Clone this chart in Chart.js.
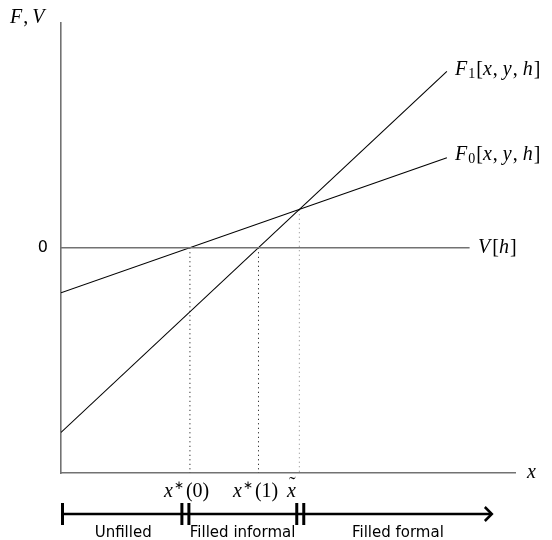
<!DOCTYPE html>
<html>
<head>
<meta charset="utf-8">
<script src="https://cdn.jsdelivr.net/npm/chart.js@4.4.1/dist/chart.umd.min.js"></script>
<style>
  html, body { margin: 0; padding: 0; background: #fff; }
</style>
</head>
<body>
<canvas id="chartCanvas" width="552" height="540"></canvas>
<script>
// courbes
const lineX = [0, 8.5];
const f0Values = [-2, 4];
const f1Values = [-8.2, 7.83];
const vX = [0, 9];
const vValues = [0, 0];

// seuils (lignes pointillées)
const cutoffX = [2.84, 4.35, 5.25];
const cutoffTop = [0, 0, 1.69];

// ligne des régimes en bas
const regimeBreaks = [2.74, 5.27];
const regimeEnd = 9.49;
const regimeLabels = ['Unfilled', 'Filled informal', 'Filled formal'];
const regimeLabelX = [1.37, 4.0, 7.42];

const yTicks = [0];

const serif = '"Liberation Serif", serif';
const sans = '"DejaVu Sans", sans-serif';
const axisGray = '#727272';
const mathSize = 20;

// petit texte "math" : morceaux italiques / indices / exposants
function drawRich(ctx, parts, x, y, size) {
    let cx = x;
    parts.forEach(p => {
        const s = p.sub ? size * 0.7 : p.sup ? size * 0.6 : size;
        ctx.font = (p.it ? 'italic ' : '') + s + 'px ' + serif;
        let dy = 0;
        if (p.sub) dy = size * 0.22;
        if (p.sup) dy = -size * 0.42;
        ctx.fillText(p.t, cx, y + dy);
        if (p.tilde) {
            const w = ctx.measureText(p.t).width;
            ctx.font = size + 'px ' + serif;
            ctx.textAlign = 'center';
            ctx.fillText('˜', cx + w / 2 + 1, y - size * 0.3);
            ctx.textAlign = 'left';
            ctx.font = (p.it ? 'italic ' : '') + s + 'px ' + serif;
        }
        cx += ctx.measureText(p.t).width + (p.sp || 0);
    });
}

const fxyh = n => [
    {t: 'F', it: true, sp: 1}, {t: n, sub: true, sp: 1}, {t: '['}, {t: 'x', it: true, sp: 1}, {t: ',', sp: 5},
    {t: 'y', it: true, sp: 1}, {t: ',', sp: 5}, {t: 'h', it: true, sp: 1}, {t: ']'}
];

const annotations = {
    id: 'annotations',
    afterDraw(chart) {
        const ctx = chart.ctx;
        const xs = chart.scales.x;
        const ya = chart.chartArea;
        ctx.save();
        ctx.fillStyle = '#000';
        ctx.textBaseline = 'middle';
        ctx.textAlign = 'left';

        drawRich(ctx, [{t: 'F', it: true, sp: 1}, {t: ',', sp: 4}, {t: 'V', it: true}], 10, 18, mathSize);
        drawRich(ctx, fxyh('1'), 455, 70, mathSize);
        drawRich(ctx, fxyh('0'), 455, 155, mathSize);
        drawRich(ctx, [{t: 'V', it: true, sp: 2}, {t: '['}, {t: 'h', it: true, sp: 1}, {t: ']'}], 478, chart.scales.y.getPixelForValue(0), mathSize);
        drawRich(ctx, [{t: 'x', it: true}], 527, ya.bottom, mathSize);

        // étiquettes des seuils
        ctx.textBaseline = 'alphabetic';
        const lblY = 497;
        drawRich(ctx, [{t: 'x', it: true, sp: 1}, {t: '∗', sup: true, sp: 2}, {t: '(0)'}], 164, lblY, mathSize);
        drawRich(ctx, [{t: 'x', it: true, sp: 1}, {t: '∗', sup: true, sp: 2}, {t: '(1)'}], 233, lblY, mathSize);
        drawRich(ctx, [{t: 'x', it: true, tilde: true}], 287, lblY, mathSize);

        // ligne des régimes
        const lineY = 514;
        const x0 = xs.getPixelForValue(0) + 1.5;
        const xEnd = xs.getPixelForValue(regimeEnd);
        ctx.strokeStyle = '#000';
        ctx.lineWidth = 2.5;
        ctx.beginPath();
        ctx.moveTo(x0, lineY);
        ctx.lineTo(xEnd - 1, lineY);
        ctx.stroke();
        ctx.beginPath();
        ctx.moveTo(xEnd - 7, lineY - 7);
        ctx.lineTo(xEnd, lineY);
        ctx.lineTo(xEnd - 7, lineY + 7);
        ctx.stroke();

        ctx.lineWidth = 3;
        const bar = px => {
            ctx.beginPath();
            ctx.moveTo(px, lineY - 11);
            ctx.lineTo(px, lineY + 11);
            ctx.stroke();
        };
        bar(x0);
        regimeBreaks.forEach(b => {
            const px = xs.getPixelForValue(b);
            bar(px - 3.5);
            bar(px + 3.5);
        });

        ctx.font = '15px ' + sans;
        ctx.textAlign = 'center';
        ctx.textBaseline = 'alphabetic';
        regimeLabels.forEach((l, i) => {
            ctx.fillText(l, xs.getPixelForValue(regimeLabelX[i]), 537);
        });
        ctx.restore();
    }
};

const pts = (xs, ys) => xs.map((x, i) => ({x: x, y: ys[i]}));

const datasets = [
    {data: pts(vX, vValues), borderColor: axisGray, borderWidth: 1.6},
    {data: pts(lineX, f0Values), borderColor: '#000', borderWidth: 1.1},
    {data: pts(lineX, f1Values), borderColor: '#000', borderWidth: 1.1}
];
cutoffX.forEach((c, i) => {
    datasets.push({
        data: [{x: c, y: cutoffTop[i]}, {x: c, y: -10}],
        borderColor: i === 2 ? '#888' : '#000',
        borderWidth: 1,
        borderDash: [1, 3.5]
    });
});

const chartCanvas = document.getElementById('chartCanvas');
const chart = new Chart(chartCanvas, {
    type: 'scatter',
    data: {datasets: datasets},
    options: {
        responsive: false,
        animation: false,
        showLine: true,
        elements: {
            point: {radius: 0, hoverRadius: 0},
            line: {tension: 0}
        },
        layout: {padding: {top: 18, right: 37, left: 0, bottom: 0}},
        plugins: {legend: {display: false}, tooltip: {enabled: false}},
        scales: {
            x: {
                type: 'linear',
                min: 0,
                max: 10,
                grid: {display: false},
                border: {display: true, color: axisGray, width: 1.6},
                ticks: {display: false},
                afterFit(s) { s.height = 67; }
            },
            y: {
                type: 'linear',
                min: -10,
                max: 10,
                grid: {display: false, tickLength: 0},
                border: {display: true, color: axisGray, width: 1.6},
                afterBuildTicks(s) { s.ticks = yTicks.map(v => ({value: v})); },
                ticks: {
                    color: '#000',
                    padding: 13,
                    font: {family: sans, size: 16},
                    callback: v => String(v)
                },
                afterFit(s) { s.width = 61; }
            }
        }
    },
    plugins: [annotations]
});
</script>
</body>
</html>
